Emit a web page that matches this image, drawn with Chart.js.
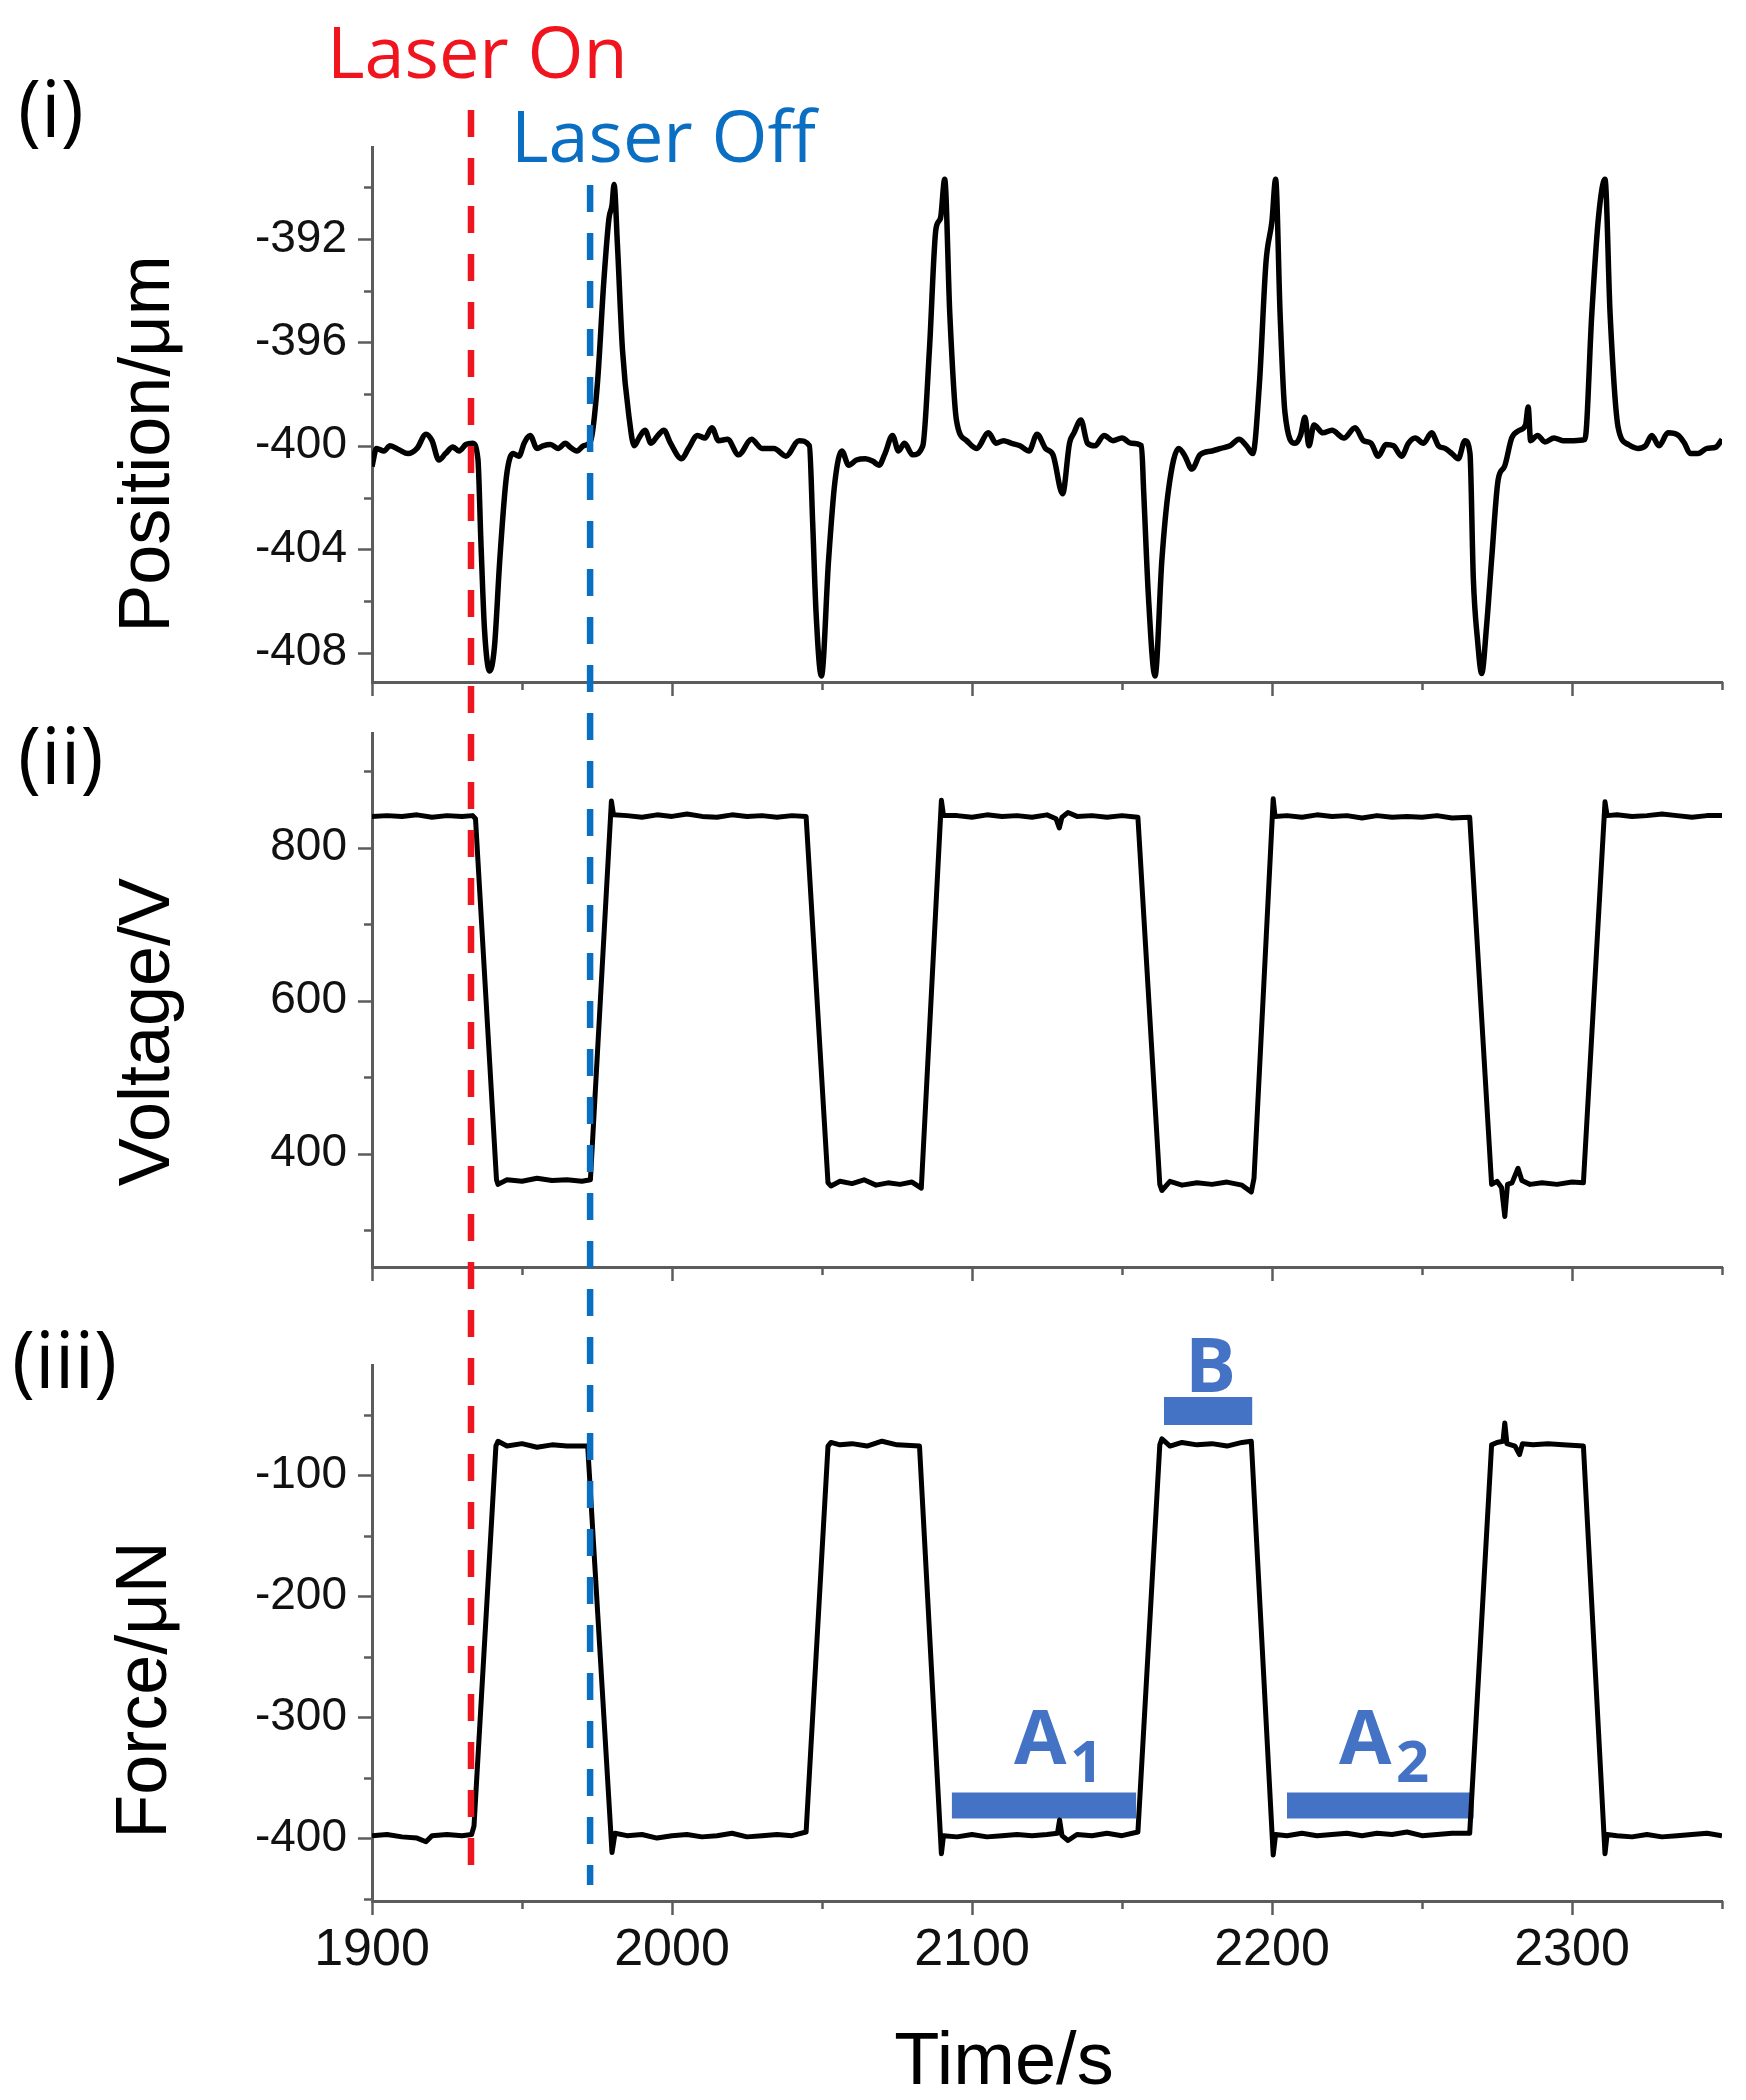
<!DOCTYPE html>
<html><head><meta charset="utf-8">
<script src="https://cdn.jsdelivr.net/npm/chart.js@4.4.1/dist/chart.umd.min.js"></script>
<style>
html,body{margin:0;padding:0;background:#fff;}
#wrap{position:relative;width:1746px;height:2100px;background:#fff;overflow:hidden;}
#wrap canvas{position:absolute;left:0;}
</style></head><body>
<div id="wrap">
<canvas id="c1" width="1746" height="700" style="top:0px"></canvas>
<canvas id="c2" width="1746" height="590" style="top:700px"></canvas>
<canvas id="c3" width="1746" height="810" style="top:1290px"></canvas>
</div>
<script>
// ---------- DATA ----------
const positionTime = [1900,1901.5,1904,1906,1909,1912,1915,1918,1920,1922.3,1924.5,1927,1929,1931.3,1933.5,1935.3,1936.3,1937.5,1939.2,1940.8,1942.6,1944.8,1947,1949,1950.7,1952.7,1955,1957,1959.5,1962,1964.5,1966,1968.3,1970.5,1972.9,1975.1,1977.3,1979,1980,1980.7,1981.8,1983.5,1985.8,1987.4,1989,1991,1993,1995.3,1997.3,1999.5,2003.2,2005.5,2008.5,2011,2013.3,2015.5,2018.5,2022.2,2026.5,2030,2034,2038,2042.3,2045.8,2046.9,2048,2049.8,2052.2,2054.3,2056.6,2058.9,2061.5,2064.5,2067,2069,2071,2073.5,2075.5,2077.5,2080.2,2083.6,2085.8,2088,2089.5,2090.9,2092.6,2094.8,2098.2,2101.5,2105.5,2108,2110.5,2113,2116,2119,2121.7,2124.5,2127,2130.2,2132.5,2134,2136.3,2138.5,2141,2144,2147,2150,2153,2156.5,2157.2,2158.8,2161,2163.3,2165.5,2168.9,2171,2173.3,2176,2180,2183,2186,2189,2191.5,2193.6,2195.8,2198,2200,2201.2,2202.7,2204.3,2207.7,2209.5,2211,2212.3,2214,2217,2220,2224,2227.7,2230.5,2233,2235.4,2238,2240.5,2243.2,2245.5,2247.7,2250.5,2253.2,2255.5,2257.7,2260,2262.1,2264.3,2266,2267.1,2268.5,2269.9,2271.5,2273.2,2275.4,2277.5,2279.9,2282.5,2284.5,2285.4,2286.2,2288.5,2291,2294,2297,2300.5,2304.3,2306.6,2308.8,2311,2312.7,2315.4,2318.8,2322,2324.5,2326.6,2329,2332,2335.5,2337.5,2339.4,2342,2345,2348,2350];
const positionUm = [-400.8,-400.1,-400.2,-400.0,-400.15,-400.3,-400.1,-399.55,-399.8,-400.55,-400.3,-400.05,-400.2,-399.95,-399.9,-400.5,-403.7,-407.1,-408.7,-407.8,-404.4,-401.2,-400.3,-400.4,-399.9,-399.6,-400.1,-400.0,-399.95,-400.1,-399.9,-400.05,-400.2,-400.0,-399.8,-397.65,-393.6,-391.2,-390.7,-389.9,-392.2,-396.3,-399.0,-400.0,-399.7,-399.4,-399.9,-399.6,-399.4,-399.9,-400.5,-400.1,-399.6,-399.7,-399.3,-399.8,-399.75,-400.35,-399.75,-400.1,-400.1,-400.4,-399.8,-400.0,-403.0,-406.4,-408.9,-404.4,-401.4,-400.2,-400.75,-400.55,-400.5,-400.6,-400.75,-400.3,-399.6,-400.2,-399.9,-400.35,-400.0,-396.3,-391.6,-391.2,-389.7,-394.9,-399.0,-399.8,-400.1,-399.5,-399.9,-399.8,-399.9,-400.0,-400.2,-399.55,-400.1,-400.35,-401.85,-399.9,-399.5,-399.0,-399.9,-400.0,-399.6,-399.8,-399.7,-399.9,-400.0,-401.7,-405.8,-408.9,-404.4,-401.7,-400.1,-400.4,-400.9,-400.35,-400.2,-400.1,-400.0,-399.75,-400.0,-400.3,-397.6,-392.9,-391.3,-389.7,-394.9,-398.7,-399.9,-399.6,-398.9,-400.0,-399.2,-399.5,-399.4,-399.7,-399.3,-399.8,-399.9,-400.4,-399.95,-400.0,-400.4,-399.9,-399.7,-399.9,-399.5,-400.0,-400.1,-400.3,-400.5,-399.8,-400.3,-405.1,-407.5,-408.8,-407.0,-404.4,-401.3,-400.8,-399.7,-399.4,-399.2,-398.5,-399.8,-399.6,-399.85,-399.7,-399.8,-399.8,-399.75,-394.9,-391.2,-389.7,-394.9,-399.3,-399.95,-400.1,-400.0,-399.6,-400.0,-399.5,-399.6,-399.9,-400.3,-400.3,-400.1,-400.05,-399.75];

const voltageTime = [1900,1905,1910,1915,1920,1925,1930,1933.5,1934.5,1941.5,1942,1945,1950,1955,1960,1965,1970,1972.8,1979.8,1980.5,1985,1990,1995,2000,2005,2010,2015,2020,2025,2030,2035,2040,2044.7,2052,2053,2056,2060,2064,2068,2072,2076,2080,2083.1,2089.8,2090.5,2095,2100,2105,2110,2115,2120,2125,2128,2129.1,2130,2132,2135,2140,2145,2150,2155.3,2162.6,2163.3,2166,2170,2175,2180,2185,2190,2193.1,2194,2200.4,2201,2205,2210,2215,2220,2225,2230,2235,2240,2245,2250,2255,2260,2265.9,2273.2,2275,2276.5,2277.6,2278.5,2280,2282,2283.3,2286,2290,2295,2300,2303.8,2311,2311.7,2315,2320,2325,2330,2335,2340,2345,2350];
const voltageV = [841,842,841,843,840,842,841,842,838,366,360,366,364,368,365,366,364,366,861,843,842,840,843,841,844,841,840,843,841,842,840,842,841,362,358,364,361,366,359,362,360,363,355,862,842,842,840,843,841,842,840,843,838,826,840,846,841,842,840,842,840,360,352,364,359,362,360,363,359,350,368,864,841,842,840,843,841,842,839,842,840,841,840,842,839,840,360,364,356,318,360,362,381,365,360,362,360,363,362,860,842,843,841,842,844,842,840,842,842];

const forceTime = [1900,1905,1910,1915,1918,1920,1925,1930,1933.2,1934,1941.3,1942,1945,1950,1955,1960,1965,1971.9,1980,1981,1985,1990,1995,2000,2005,2010,2015,2020,2025,2030,2035,2040,2044.7,2052,2053,2056,2060,2065,2070,2075,2082.5,2089.8,2090.5,2095,2100,2105,2110,2115,2120,2125,2128.5,2129.2,2130,2132,2135,2140,2145,2150,2155.3,2162.6,2163.3,2166,2170,2175,2180,2185,2190,2193.1,2200.4,2201.2,2205,2210,2215,2220,2225,2230,2235,2240,2245,2250,2255,2260,2265.9,2273.2,2275,2277,2277.6,2278.3,2281,2282.5,2283.5,2287,2292,2297,2303.8,2311,2311.7,2315,2320,2325,2330,2335,2340,2345,2350];
const forceUN = [-398,-397,-399,-400,-403,-398,-397,-398,-397,-390,-76,-72,-76,-74,-77,-75,-76,-76,-412,-396,-398,-397,-400,-398,-397,-399,-398,-396,-399,-398,-397,-398,-395,-76,-73,-75,-74,-76,-72,-75,-76,-413,-398,-399,-397,-399,-398,-397,-398,-397,-396,-385,-398,-402,-397,-398,-396,-398,-395,-75,-70,-76,-73,-75,-74,-76,-73,-72,-414,-397,-398,-396,-398,-397,-396,-398,-396,-397,-395,-398,-397,-396,-396,-75,-73,-72,-57,-74,-76,-83,-74,-75,-74,-75,-76,-413,-397,-398,-399,-397,-399,-398,-397,-396,-398];

const laserOnTime = 1933;
const laserOffTime = 1972.7;
// annotation bars in panel (iii): [start time, end time, force level]
const barA1 = [2093.3, 2154.7, -373];
const barA2 = [2205.0, 2267.2, -373];
const barB  = [2164.0, 2193.4, -47];

// ---------- STYLE / LAYOUT ----------
const AXIS = '#5c5c5c';
const TICKFONT = 'Liberation Sans, Arial, sans-serif';
const RED = '#f0141e', BLUE = '#0a6fc2', ANN = '#4472c4';

function pts(xs, ys){ return xs.map((t,i)=>({x:t, y:ys[i]})); }
function isMult(v, s){ return Math.abs(v/s - Math.round(v/s)) < 1e-6; }

const axisTicks = {
  id: 'axisTicks',
  afterDraw(chart, args, o) {
    const ctx = chart.ctx, x = chart.scales.x, y = chart.scales.y;
    ctx.save(); ctx.strokeStyle = AXIS; ctx.lineWidth = 2.5;
    for (let v = Math.ceil(x.min/o.xMinor - 1e-9)*o.xMinor; v <= x.max + 1e-9; v += o.xMinor) {
      const p = Math.round(x.getPixelForValue(v)) + 0.5;
      const L = isMult(v, o.xMajor) ? 14 : 8;
      ctx.beginPath(); ctx.moveTo(p, x.top); ctx.lineTo(p, x.top + L); ctx.stroke();
    }
    for (let v = Math.ceil(y.min/o.yMinor - 1e-9)*o.yMinor; v <= y.max + 1e-9; v += o.yMinor) {
      const p = Math.round(y.getPixelForValue(v)) + 0.5;
      const L = isMult(v, o.yMajor) ? 14 : 8;
      ctx.beginPath(); ctx.moveTo(y.right, p); ctx.lineTo(y.right - L, p); ctx.stroke();
    }
    ctx.restore();
  }
};

const laserLines = {
  id: 'laserLines',
  afterDraw(chart, args, o) {
    const ctx = chart.ctx, x = chart.scales.x;
    ctx.save(); ctx.lineWidth = 6.5; ctx.setLineDash([27, 21]);
    for (const l of o.lines) {
      const px = x.getPixelForValue(l.t);
      const y0 = Math.max(0, l.y0 - o.top), y1 = Math.min(chart.height, l.y1 - o.top);
      if (y1 <= y0) continue;
      ctx.strokeStyle = l.color;
      ctx.lineDashOffset = (o.top + y0 - l.y0);
      ctx.beginPath(); ctx.moveTo(px, y0); ctx.lineTo(px, y1); ctx.stroke();
    }
    ctx.restore();
  }
};

const texts = {
  id: 'texts',
  afterDraw(chart, args, o) {
    const ctx = chart.ctx;
    for (const t of o.items) {
      ctx.save();
      ctx.font = t.font; ctx.fillStyle = t.color || '#000';
      ctx.textAlign = t.align || 'left'; ctx.textBaseline = 'alphabetic';
      ctx.translate(t.x, t.y - o.top);
      if (t.rot) ctx.rotate(t.rot);
      ctx.fillText(t.text, 0, 0);
      ctx.restore();
    }
  }
};

const laserDefs = [
  {t: laserOnTime, color: RED, y0: 110, y1: 1885},
  {t: laserOffTime, color: BLUE, y0: 185, y1: 1885}
];

function panel(id, top, cfg) {
  const canvas = document.getElementById(id);
  const datasets = [{
    data: pts(cfg.xs, cfg.ys), borderColor: '#000', borderWidth: cfg.lw,
    pointRadius: 0, tension: 0, cubicInterpolationMode: cfg.smooth ? 'monotone' : 'default',
    borderJoinStyle: 'round', fill: false
  }].concat(cfg.extra || []);
  return new Chart(canvas, {
    type: 'line',
    data: { datasets },
    options: {
      responsive: false, animation: false, devicePixelRatio: 1, events: [],
      layout: { padding: { top: cfg.padTop, right: 24, bottom: 0, left: 0 } },
      plugins: {
        legend: { display: false }, tooltip: { enabled: false },
        axisTicks: { xMinor: 50, xMajor: 100, yMinor: cfg.yMinor, yMajor: cfg.yMajor },
        laserLines: { top, lines: laserDefs },
        texts: { top, items: cfg.texts }
      },
      scales: {
        x: {
          type: 'linear', min: 1900, max: 2350,
          grid: { display: false, drawTicks: false, tickLength: 0 },
          border: { display: true, color: AXIS, width: 3 },
          ticks: {
            display: cfg.showX, stepSize: 100, includeBounds: false, padding: 18,
            color: '#111', font: { family: TICKFONT, size: 52 },
            maxRotation: 0, autoSkip: false, callback: v => String(v)
          },
          afterFit: s => { s.height = cfg.xh; s.paddingLeft = 0; s.paddingRight = 0; }
        },
        y: {
          type: 'linear', min: cfg.ymin, max: cfg.ymax,
          grid: { display: false, drawTicks: false, tickLength: 0 },
          border: { display: true, color: AXIS, width: 3 },
          ticks: {
            stepSize: cfg.yMajor, includeBounds: false, padding: 25,
            color: '#111', font: { family: TICKFONT, size: 46 },
            autoSkip: false, callback: v => String(v)
          },
          afterFit: s => { s.width = 372; s.paddingTop = 0; s.paddingBottom = 0; }
        }
      }
    },
    plugins: [axisTicks, laserLines, texts]
  });
}

const TITLE = '72px "Liberation Sans", Arial, sans-serif';
const PANEL = '78px "Open Sans", sans-serif';
const LASER = '72px "Open Sans", sans-serif';
const ANNF = 'bold 76px "Open Sans", sans-serif';
const SUBF = 'bold 58px "Open Sans", sans-serif';
const R = -Math.PI / 2;

function barSet(b, w) {
  return { data: [{x: b[0], y: b[2]}, {x: b[1], y: b[2]}], borderColor: ANN, borderWidth: w,
           pointRadius: 0, borderCapStyle: 'butt', fill: false };
}

panel('c1', 0, {
  xs: positionTime, ys: positionUm, lw: 5.5, smooth: true, padTop: 147, xh: 18, showX: false,
  ymin: -409.13, ymax: -388.45, yMajor: 4, yMinor: 2,
  texts: [
    {text: '(i)', font: PANEL, x: 18, y: 137},
    {text: 'Laser On', font: LASER, color: RED, x: 327, y: 78},
    {text: 'Laser Off', font: LASER, color: BLUE, x: 511, y: 162},
    {text: 'Position/μm', font: TITLE, x: 169, y: 444, rot: R, align: 'center'}
  ]
});

panel('c2', 700, {
  xs: voltageTime, ys: voltageV, lw: 5, smooth: false, padTop: 33, xh: 23, showX: false,
  ymin: 252, ymax: 950, yMajor: 200, yMinor: 100,
  texts: [
    {text: '(ii)', font: PANEL, x: 18, y: 784},
    {text: 'Voltage/V', font: TITLE, x: 169, y: 1032, rot: R, align: 'center'}
  ]
});

panel('c3', 1290, {
  xs: forceTime, ys: forceUN, lw: 5, smooth: false, padTop: 75, xh: 199, showX: true,
  ymin: -452, ymax: -9, yMajor: 100, yMinor: 50,
  extra: [barSet(barA1, 26), barSet(barA2, 26), barSet(barB, 28)],
  texts: [
    {text: '(iii)', font: PANEL, x: 12, y: 1388},
    {text: 'Force/μN', font: TITLE, x: 166, y: 1690, rot: R, align: 'center'},
    {text: 'Time/s', font: '74px "Liberation Sans", Arial, sans-serif', x: 1004, y: 2084, align: 'center'},
    {text: 'B', font: ANNF, color: ANN, x: 1185, y: 1392},
    {text: 'A', font: ANNF, color: ANN, x: 1014, y: 1764},
    {text: '1', font: SUBF, color: ANN, x: 1070, y: 1782},
    {text: 'A', font: ANNF, color: ANN, x: 1339, y: 1764},
    {text: '2', font: SUBF, color: ANN, x: 1396, y: 1782}
  ]
});
</script>
</body></html>
